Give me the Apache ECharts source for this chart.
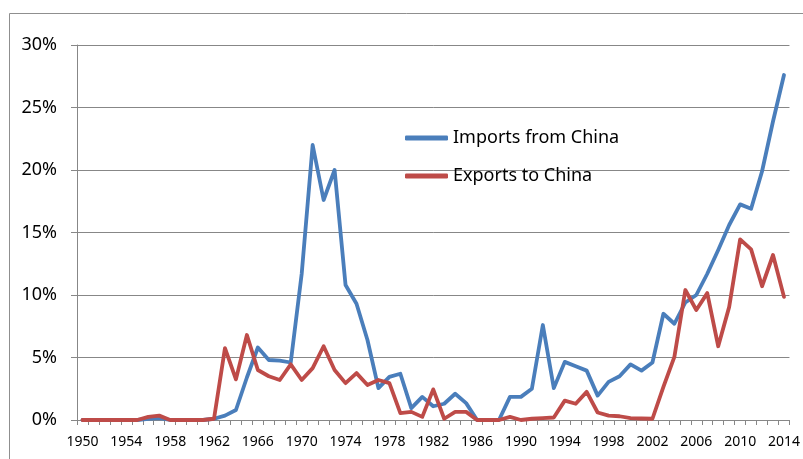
<!DOCTYPE html>
<html>
<head>
<meta charset="utf-8">
<script src="https://cdn.jsdelivr.net/npm/echarts@6/dist/echarts.min.js"></script>
<style>
html,body{margin:0;padding:0;background:#fff;}
#chart{width:803px;height:459px;}
</style>
</head>
<body>
<div id="chart"></div>
<script>
const years = [];
for (let y = 1950; y <= 2014; y++) years.push(String(y));

const importsFromChina = [
  0, 0, 0, 0, 0, 0, 0.1, 0.15, 0, 0,
  0, 0, 0.1, 0.35, 0.8, 3.4, 5.8, 4.8, 4.75, 4.6,
  11.7, 22.0, 17.6, 20.0, 10.8, 9.3, 6.4, 2.55, 3.45, 3.7,
  0.95, 1.85, 1.1, 1.3, 2.1, 1.35, 0, 0, 0, 1.85,
  1.85, 2.5, 7.6, 2.55, 4.65, 4.3, 3.95, 1.95, 3.05, 3.5,
  4.45, 3.95, 4.6, 8.5, 7.7, 9.4, 10.0, 11.7, 13.6, 15.6,
  17.25, 16.9, 19.9, 23.9, 27.6
];

const exportsToChina = [
  0, 0, 0, 0, 0, 0, 0.25, 0.35, 0, 0,
  0, 0, 0.1, 5.75, 3.25, 6.8, 4.0, 3.5, 3.2, 4.45,
  3.2, 4.15, 5.9, 4.0, 2.95, 3.75, 2.8, 3.2, 2.95, 0.55,
  0.65, 0.25, 2.45, 0.1, 0.65, 0.65, 0, 0, 0, 0.25,
  0.0, 0.1, 0.15, 0.2, 1.55, 1.3, 2.25, 0.6, 0.35, 0.3,
  0.15, 0.12, 0.1, 2.65, 5.05, 10.4, 8.8, 10.15, 5.9, 9.05,
  14.45, 13.65, 10.7, 13.2, 9.85
];

const chart = echarts.init(document.getElementById('chart'), null, {renderer: 'canvas'});
const font = '"Noto Sans", "Open Sans", sans-serif';
const grey = '#878787';

chart.setOption({
  animation: false,
  backgroundColor: '#fff',
  textStyle: {fontFamily: font},
  graphic: [{
    type: 'rect',
    shape: {x: 9.5, y: 13.5, width: 900, height: 600},
    style: {fill: 'none', stroke: '#8f8f8f', lineWidth: 1},
    silent: true
  }],
  legend: {
    orient: 'vertical',
    left: 405,
    top: 129,
    padding: 0,
    itemGap: 20,
    itemWidth: 43,
    itemHeight: 5,
    icon: 'roundRect',
    textStyle: {fontFamily: font, fontSize: 18, color: '#000'},
    data: ['Imports from China', 'Exports to China']
  },
  grid: {left: 77, right: 13, top: 45, bottom: 39, containLabel: false},
  xAxis: {
    type: 'category',
    data: years,
    boundaryGap: true,
    axisLine: {lineStyle: {color: grey, width: 1}},
    axisTick: {show: true, interval: 0, length: 5, inside: false, lineStyle: {color: grey}},
    axisLabel: {interval: 3, color: '#000', fontSize: 14, fontFamily: font, margin: 15}
  },
  yAxis: {
    type: 'value',
    min: 0,
    max: 30,
    interval: 5,
    axisLine: {show: true, lineStyle: {color: grey, width: 1}},
    axisTick: {show: true, length: 6, inside: false, lineStyle: {color: grey}},
    splitLine: {lineStyle: {color: grey, width: 1}},
    axisLabel: {formatter: '{value}%', color: '#000', fontSize: 18, fontFamily: font, margin: 20}
  },
  series: [
    {
      name: 'Imports from China',
      type: 'line',
      data: importsFromChina,
      symbol: 'none',
      lineStyle: {color: '#4a7ebb', width: 3.8, cap: 'round', join: 'round'},
      itemStyle: {color: '#4a7ebb'},
      z: 2
    },
    {
      name: 'Exports to China',
      type: 'line',
      data: exportsToChina,
      symbol: 'none',
      lineStyle: {color: '#be4b48', width: 3.8, cap: 'round', join: 'round'},
      itemStyle: {color: '#be4b48'},
      z: 3
    }
  ]
});
</script>
</body>
</html>
